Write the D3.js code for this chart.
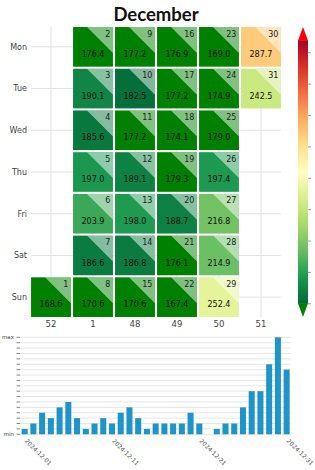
<!DOCTYPE html>
<html>
<head>
<meta charset="utf-8">
<script src="https://cdn.jsdelivr.net/npm/d3@7"></script>
<style>
  html, body { margin: 0; padding: 0; background: #fff; }
  svg { display: block; }
  text { font-family: "DejaVu Sans", sans-serif; }
</style>
</head>
<body>
<svg id="chart" width="315" height="470"></svg>
<script>
// ---- data ----
const title = "December";
const values = [168.6,176.4,190.1,185.6,197.0,203.9,186.6,170.6,177.2,182.5,177.2,189.1,198.0,186.8,170.6,
                176.9,177.2,174.1,179.3,188.7,176.1,167.4,169.0,174.9,179.0,197.4,216.8,214.9,252.4,287.7,242.5];
const dayNumbers = d3.range(1, 32);
const weekLabels = ["52","1","48","49","50","51"];
const dayLabels = ["Mon","Tue","Wed","Thu","Fri","Sat","Sun"];
const barLevels = [1,2,4,3,5,6,3,1,2,3,2,4,5,3,1,2,2,2,2,4,2,0,1,2,2,5,8,8,13,18,12];
const barDates = dayNumbers.map(d => "2024-12-" + String(d).padStart(2, "0"));
const barTickDates = ["2024-12-01","2024-12-11","2024-12-21","2024-12-31"];
const colorTicks = [180,200,220,240,260,280,300,320,340];
const colorDomain = [180, 348];
const firstWeekday = 6; // Dec 1 2024 is Sunday (Mon = 0)

const cmapStops = ["#006837","#1a9850","#66bd63","#a6d96a","#d9ef8b","#ffffbf","#fee08b","#fdae61","#f46d43","#d73027","#a50026"];
const underColor = "#008000", overColor = "#ff0000";

const svg = d3.select("#chart");

// ---- color scale ----
const norm = d3.scaleLinear().domain(colorDomain).range([0, 1]);
const cmap = d3.scaleLinear().domain(d3.range(11).map(i => i / 10)).range(cmapStops).interpolate(d3.interpolateRgb);
function color(v) {
  const t = norm(v);
  if (t < 0) return underColor;
  if (t > 1) return overColor;
  return cmap(t);
}

// ---- calendar ----
const x = d3.scaleBand().domain(d3.range(weekLabels.length)).range([30, 282]).paddingInner(0.05).paddingOuter(0.025);
const y = d3.scaleBand().domain(d3.range(7)).range([26, 318]).paddingInner(0.05).paddingOuter(0.025);

svg.append("text").attr("x", 156).attr("y", 21).attr("text-anchor", "middle")
  .style("font-family", "Lato, sans-serif").style("font-weight", 700).style("font-size", "18.5px")
  .attr("fill", "#111").text(title);

const grid = svg.append("g");
const gx0 = x(0), gx1 = x(weekLabels.length - 1) + x.bandwidth();
const gy0 = y(0), gy1 = y(6) + y.bandwidth();
d3.range(7).forEach(r => {
  grid.append("line").attr("x1", gx0).attr("x2", gx1)
    .attr("y1", y(r) + y.bandwidth() / 2).attr("y2", y(r) + y.bandwidth() / 2)
    .attr("stroke", "#e3e3e3").attr("stroke-width", 1);
});
weekLabels.forEach((w, c) => {
  grid.append("line").attr("y1", gy0).attr("y2", gy1)
    .attr("x1", x(c) + x.bandwidth() / 2).attr("x2", x(c) + x.bandwidth() / 2)
    .attr("stroke", "#e3e3e3").attr("stroke-width", 1);
});

dayLabels.forEach((d, r) => {
  svg.append("text").attr("x", 27).attr("y", y(r) + y.bandwidth() / 2).attr("dy", "0.35em")
    .attr("text-anchor", "end").style("font-size", "8px").attr("fill", "#444").text(d);
});
weekLabels.forEach((w, c) => {
  svg.append("text").attr("x", x(c) + x.bandwidth() / 2).attr("y", 327)
    .attr("text-anchor", "middle").style("font-size", "8.5px").attr("fill", "#444").text(w);
});

const cells = svg.append("g").selectAll("g").data(values).join("g")
  .attr("transform", (v, i) => {
    const col = Math.floor((i + firstWeekday) / 7);
    const row = (i + firstWeekday) % 7;
    return `translate(${x(col)},${y(row)})`;
  });
const bw = x.bandwidth(), bh = y.bandwidth();
cells.append("rect").attr("width", bw).attr("height", bh).attr("fill", v => color(v));
cells.append("path")
  .attr("d", `M${bw * 0.35},0L${bw},0L${bw},${bw * 0.65}Z`)
  .attr("fill", "#fff").attr("fill-opacity", 0.5);
cells.append("text").attr("x", bw - 2.5).attr("y", 9.5).attr("text-anchor", "end")
  .style("font-size", "8px").attr("fill", "#222").text((v, i) => dayNumbers[i]);
cells.append("text").attr("x", bw / 2).attr("y", 30).attr("text-anchor", "middle")
  .style("font-size", "8px").attr("fill", "#111").text(v => v.toFixed(1));

// ---- colorbar ----
const cbX = 298, cbW = 10, cbTop = 40.2, cbBot = 303.8;
const cbScale = d3.scaleLinear().domain(colorDomain).range([cbBot, cbTop]);
const defs = svg.append("defs");
const grad = defs.append("linearGradient").attr("id", "cbgrad").attr("x1", 0).attr("x2", 0).attr("y1", 1).attr("y2", 0);
cmapStops.forEach((c, i) => grad.append("stop").attr("offset", i / 10).attr("stop-color", c));
svg.append("rect").attr("x", cbX).attr("y", cbTop).attr("width", cbW).attr("height", cbBot - cbTop).attr("fill", "url(#cbgrad)");
svg.append("path").attr("d", `M${cbX},${cbTop + 0.5}L${cbX + cbW / 2},${cbTop - 13.2}L${cbX + cbW},${cbTop + 0.5}Z`).attr("fill", overColor);
svg.append("path").attr("d", `M${cbX},${cbBot - 0.5}L${cbX + cbW / 2},${cbBot + 13.2}L${cbX + cbW},${cbBot - 0.5}Z`).attr("fill", underColor);
colorTicks.forEach(t => {
  svg.append("line").attr("x1", cbX + cbW).attr("x2", cbX + cbW + 3)
    .attr("y1", cbScale(t)).attr("y2", cbScale(t)).attr("stroke", "#888").attr("stroke-width", 0.8);
});

// ---- bar chart ----
const bx = d3.scaleBand().domain(barDates).range([20.3, 291]).paddingInner(0.31).paddingOuter(0.155);
const by = d3.scaleLinear().domain([0, 18]).range([434.3, 337.3]);
const bars = svg.append("g");
d3.range(0, 19).forEach(l => {
  bars.append("line").attr("x1", 20).attr("x2", 290.7).attr("y1", by(l)).attr("y2", by(l))
    .attr("stroke", "#e6e6e6").attr("stroke-width", 1);
  bars.append("line").attr("x1", 16.5).attr("x2", 20).attr("y1", by(l)).attr("y2", by(l))
    .attr("stroke", "#666").attr("stroke-width", 0.8);
});
bars.append("text").attr("x", 14).attr("y", by(18)).attr("dy", "0.35em").attr("text-anchor", "end")
  .style("font-size", "5.5px").attr("fill", "#444").text("max");
bars.append("text").attr("x", 14).attr("y", by(0)).attr("dy", "0.35em").attr("text-anchor", "end")
  .style("font-size", "5.5px").attr("fill", "#444").text("min");
bars.selectAll("rect").data(barLevels).join("rect")
  .attr("x", (v, i) => bx(barDates[i])).attr("width", bx.bandwidth())
  .attr("y", v => by(v)).attr("height", v => by(0) - by(v))
  .attr("fill", "#1f94c9");
barTickDates.forEach(d => {
  bars.append("text")
    .attr("transform", `translate(${bx(d) + bx.bandwidth() / 2 + 1},${440}) rotate(45)`)
    .attr("dy", "0.3em")
    .style("font-size", "6px").attr("fill", "#555").text(d);
});
</script>
</body>
</html>
